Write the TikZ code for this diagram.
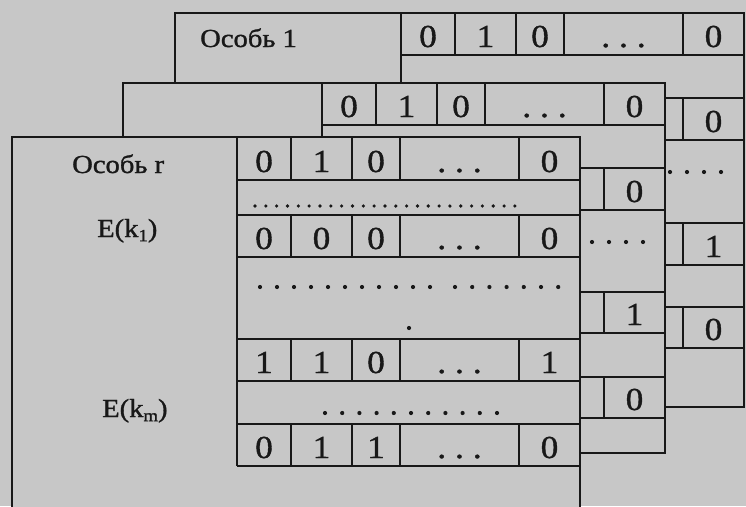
\documentclass[tikz,border=0pt]{standalone}
\usepackage{fontspec}
\setmainfont[FakeStretch=1.1,FakeBold=1.2]{Liberation Serif}
\definecolor{paper}{RGB}{199,199,199}
\definecolor{ink}{RGB}{24,24,24}
\newcommand\mydots{.\hspace{9pt}.\hspace{9pt}.}
\newcommand\lowsub[1]{\raisebox{-0.35ex}{\fontsize{17}{17}\selectfont #1}}
\tikzset{
  card/.style={fill=paper, draw=ink, line width=2.1pt},
  rule/.style={draw=ink, line width=1.9pt},
  bit/.style={text=ink, font=\fontsize{32}{32}\selectfont, inner sep=0pt, anchor=base},
  lbl/.style={text=ink, font=\fontsize{26}{26}\selectfont, inner sep=0pt, anchor=base west},
}
\begin{document}
\begin{tikzpicture}[x=1pt,y=-1pt]
\useasboundingbox (0,0) rectangle (746,506);
\fill[paper] (0,0) rectangle (746,506);

% ---------- back card (Особь 1) ----------
\path[card] (175,13) rectangle (744,407);
\draw[rule] (401,13) -- (401,348);
\foreach \y in {55,98,140,223,265,307,348} \draw[rule] (401,\y) -- (744,\y);
\foreach \a/\b in {13/55,98/140,223/265,307/348}
  \foreach \x in {455,516,564,683} \draw[rule] (\x,\a) -- (\x,\b);
\node[lbl] (bl) at (200,47) {Особь 1};
\foreach \x/\v [count=\i] in {428/0,485.5/1,540/0,623.5/\mydots,713.5/0}
  \node[bit] (b1-\i) at (\x,47) {\v};
\node[bit] (b2-5) at (713.5,132) {0};
\node[bit] (b3-5) at (713.5,257) {1};
\node[bit] (b4-5) at (713.5,340) {0};
\foreach \x in {670,687,704,721} \fill[ink] (\x,172) circle (2.1);

% ---------- middle card ----------
\path[card] (123,83) rectangle (665,453);
\draw[rule] (322,83) -- (322,418);
\foreach \y in {125,168,210,292,333,377,418} \draw[rule] (322,\y) -- (665,\y);
\foreach \a/\b in {83/125,168/210,292/333,377/418}
  \foreach \x in {376,437,485,604} \draw[rule] (\x,\a) -- (\x,\b);
\foreach \x/\v [count=\i] in {349/0,406.5/1,461/0,544.5/\mydots,634.5/0}
  \node[bit] (m1-\i) at (\x,117) {\v};
\node[bit] (m2-5) at (634.5,202) {0};
\node[bit] (m3-5) at (634.5,325) {1};
\node[bit] (m4-5) at (634.5,410) {0};
\foreach \x in {592,609,626,643} \fill[ink] (\x,242) circle (2.1);

% ---------- front card (Особь r) ----------
\fill[paper] (12,137) rectangle (580,512);
\draw[card, fill=none] (12,512) -- (12,137) -- (580,137) -- (580,512);
\draw[rule] (237,137) -- (237,466);
\foreach \y in {180,215,257,339,381,424,466} \draw[rule] (237,\y) -- (580,\y);
\foreach \a/\b in {137/180,215/257,339/381,424/466}
  \foreach \x in {291,352,400,519} \draw[rule] (\x,\a) -- (\x,\b);
\node[lbl] (fl) at (72,173) {Особь r};
\node[lbl] (fk1) at (97,237) {E(k\lowsub{1})};
\node[lbl] (fkm) at (102,417) {E(k\lowsub{m})};
\foreach \x/\v [count=\i] in {264/0,321.5/1,376/0,459.5/\mydots,549.5/0}
  \node[bit] (f1-\i) at (\x,172) {\v};
\foreach \x/\v [count=\i] in {264/0,321.5/0,376/0,459.5/\mydots,549.5/0}
  \node[bit] (f2-\i) at (\x,249) {\v};
\foreach \x/\v [count=\i] in {264/1,321.5/1,376/0,459.5/\mydots,549.5/1}
  \node[bit] (f3-\i) at (\x,373) {\v};
\foreach \x/\v [count=\i] in {264/0,321.5/1,376/1,459.5/\mydots,549.5/0}
  \node[bit] (f4-\i) at (\x,458) {\v};
% dotted rows
\foreach \i in {0,...,24} \fill[ink] ({255+\i*10.83},206) circle (1.8);
\foreach \i in {0,...,10} \fill[ink] ({260+\i*17},287) circle (2.1);
\foreach \i in {0,...,6} \fill[ink] ({455+\i*17.2},287) circle (2.1);
\fill[ink] (409,328) circle (2.1);
\foreach \i in {0,...,10} \fill[ink] ({325+\i*17.2},413) circle (2.1);
\end{tikzpicture}
\end{document}
